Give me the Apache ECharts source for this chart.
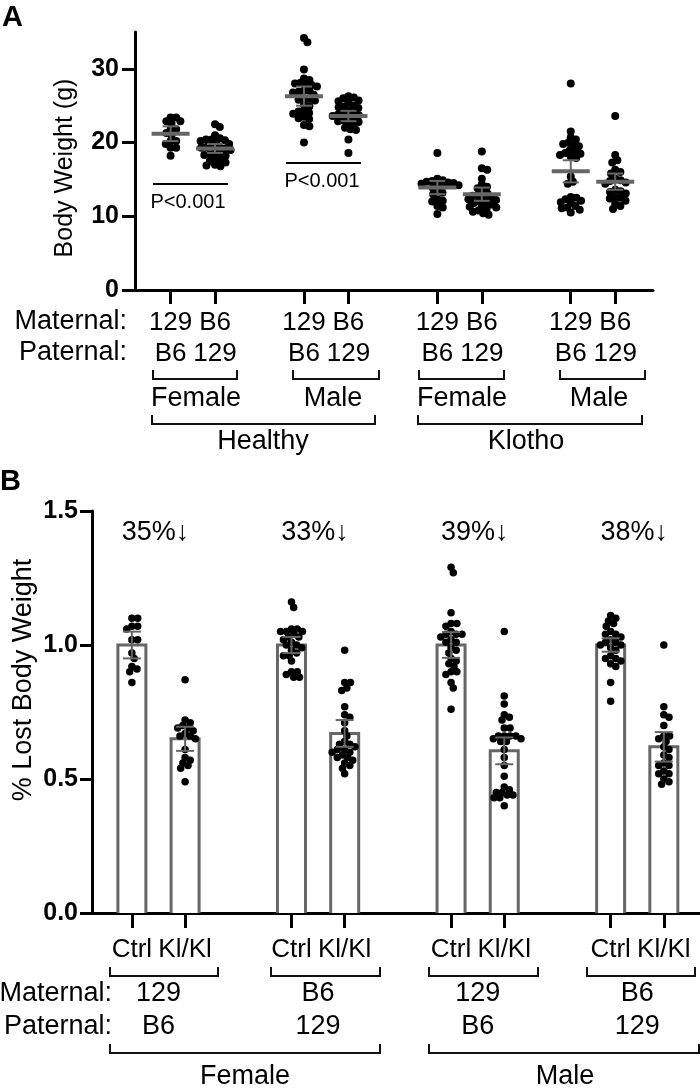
<!DOCTYPE html>
<html><head><meta charset="utf-8">
<script src="https://cdn.jsdelivr.net/npm/echarts@6/dist/echarts.min.js"></script>
<style>html,body{margin:0;padding:0;background:#fff}#c{width:700px;height:1088px}</style>
</head><body><div id="c"></div>
<script>
// ---------------- DATA ----------------
const xPos = [1, 2, 4, 5, 7, 8, 10, 11];
// Panel A
const maternalA = ['129', 'B6', '129', 'B6', '129', 'B6', '129', 'B6'];
const paternalA = ['B6', '129', 'B6', '129', 'B6', '129', 'B6', '129'];
const yTicksA = [0, 10, 20, 30];
const weightG1 = [23.4, 23.4, 22.9, 22.9, 22.6, 21.8, 21.8, 21.3, 21.0, 20.2, 20.2, 19.8, 19.3, 19.3, 18.2];
const weightG2 = [22.5, 22.1, 21.0, 20.6, 20.4, 20.4, 20.3, 20.2, 20.0, 19.8, 19.5, 19.4, 19.4, 19.3, 19.2, 19.0, 18.7, 18.5, 18.4, 18.3, 18.2, 17.8, 17.6, 17.5, 17.3, 17.0, 16.9, 16.8];
const weightG3 = [34.2, 33.6, 29.9, 28.7, 28.5, 28.1, 28.0, 27.9, 27.8, 27.6, 27.1, 27.0, 26.9, 26.8, 26.5, 26.0, 25.9, 25.8, 25.7, 25.1, 24.9, 24.3, 24.2, 24.0, 23.9, 23.5, 23.3, 23.2, 22.4, 22.2, 20.0];
const weightG4 = [26.3, 26.1, 26.0, 25.7, 25.6, 25.4, 25.0, 24.9, 24.8, 24.7, 24.3, 24.0, 23.9, 23.8, 23.7, 23.6, 23.4, 23.2, 23.0, 22.9, 22.8, 22.6, 22.4, 22.0, 21.8, 21.7, 20.4, 18.6];
const weightG5 = [18.6, 15.1, 14.9, 14.8, 14.7, 14.6, 14.5, 14.4, 14.3, 14.2, 14.1, 13.9, 13.5, 13.2, 13.0, 12.3, 12.1, 12.0, 11.4, 11.2, 10.3];
const weightG6 = [18.8, 16.5, 16.3, 15.1, 14.3, 14.0, 13.8, 13.4, 13.1, 12.9, 12.8, 12.6, 12.5, 12.3, 12.2, 12.1, 12.0, 11.8, 11.6, 11.4, 11.3, 11.2, 11.0, 10.8, 10.6, 10.4, 10.2];
const weightG7 = [28.0, 21.5, 20.7, 20.4, 20.0, 19.8, 19.6, 19.5, 19.0, 18.8, 18.6, 18.5, 18.3, 18.1, 17.9, 15.4, 14.7, 14.4, 12.6, 12.5, 12.3, 12.1, 11.9, 11.8, 11.4, 11.2, 11.1, 10.9, 10.5];
const weightG8 = [23.6, 18.3, 17.6, 17.3, 16.3, 16.0, 15.8, 15.1, 14.9, 14.8, 14.6, 14.4, 13.6, 13.4, 13.3, 13.1, 12.6, 12.5, 12.4, 12.1, 11.7, 11.4, 11.0];
const meanA = [21.2, 19.2, 26.3, 23.6, 13.9, 13.0, 16.1, 14.7];
const errA = [1.0, 0.6, 1.3, 0.7, 0.9, 0.9, 1.5, 1.1];
const pLabelA = ['P<0.001', 'P<0.001'];
const groupTopA = ['Female', 'Male', 'Female', 'Male'];
const groupBottomA = ['Healthy', 'Klotho'];
// Panel B
const xLabelsB = ['Ctrl', 'Kl/Kl', 'Ctrl', 'Kl/Kl', 'Ctrl', 'Kl/Kl', 'Ctrl', 'Kl/Kl'];
const yTicksB = [0, 0.5, 1.0, 1.5];
const lostG1 = [1.10, 1.10, 1.07, 1.07, 1.06, 1.02, 1.02, 0.97, 0.95, 0.92, 0.91, 0.90, 0.86];
const lostG2 = [0.87, 0.72, 0.71, 0.70, 0.69, 0.69, 0.68, 0.67, 0.66, 0.66, 0.65, 0.61, 0.58, 0.57, 0.56, 0.55, 0.54, 0.49];
const lostG3 = [1.16, 1.14, 1.06, 1.06, 1.05, 1.05, 1.05, 1.04, 1.03, 1.03, 1.02, 1.01, 1.00, 1.00, 0.99, 0.98, 0.97, 0.96, 0.96, 0.94, 0.90, 0.90, 0.89, 0.88, 0.88];
const lostG4 = [0.98, 0.86, 0.86, 0.84, 0.83, 0.77, 0.74, 0.73, 0.71, 0.68, 0.66, 0.64, 0.63, 0.63, 0.62, 0.61, 0.61, 0.60, 0.60, 0.59, 0.58, 0.58, 0.57, 0.56, 0.55, 0.54, 0.52];
const lostG5 = [1.29, 1.27, 1.12, 1.08, 1.08, 1.07, 1.05, 1.04, 1.04, 1.04, 1.03, 1.02, 1.01, 1.01, 0.99, 0.98, 0.97, 0.95, 0.94, 0.93, 0.92, 0.90, 0.90, 0.89, 0.86, 0.84, 0.76];
const lostG6 = [1.05, 0.81, 0.78, 0.74, 0.73, 0.72, 0.69, 0.69, 0.66, 0.66, 0.66, 0.66, 0.65, 0.65, 0.64, 0.64, 0.61, 0.58, 0.55, 0.51, 0.47, 0.46, 0.45, 0.45, 0.44, 0.43, 0.43, 0.44, 0.40];
const lostG7 = [1.11, 1.10, 1.09, 1.08, 1.07, 1.05, 1.04, 1.04, 1.03, 1.02, 1.01, 1.01, 1.00, 1.00, 0.99, 0.98, 0.96, 0.95, 0.95, 0.94, 0.93, 0.92, 0.86, 0.79];
const lostG8 = [1.00, 0.77, 0.74, 0.73, 0.70, 0.66, 0.66, 0.65, 0.64, 0.62, 0.61, 0.59, 0.58, 0.56, 0.55, 0.55, 0.53, 0.52, 0.52, 0.50, 0.49, 0.48];
const meanB = [1.00, 0.65, 1.00, 0.67, 1.00, 0.605, 1.00, 0.62];
const errB = [0.05, 0.045, 0.03, 0.05, 0.048, 0.05, 0.025, 0.055];
const pctLabels = ['35%\u2193', '33%\u2193', '39%\u2193', '38%\u2193'];
const pairCenters = [1.5, 4.5, 7.5, 10.5];
const maternalB = ['129', 'B6', '129', 'B6'];
const paternalB = ['B6', '129', 'B6', '129'];
const sexLabelsB = ['Female', 'Male'];

const weightGroups = [weightG1, weightG2, weightG3, weightG4, weightG5, weightG6, weightG7, weightG8];
const lostGroups = [lostG1, lostG2, lostG3, lostG4, lostG5, lostG6, lostG7, lostG8];

// ---------------- STYLE ----------------
const FONT = "'Liberation Sans', Arial, Helvetica, sans-serif";
const GRAY = '#666666';
const BLACK = '#000000';

const chart = echarts.init(document.getElementById('c'), null, { renderer: 'canvas' });

function errRender(capHalf, meanHalf, meanW) {
  return function (params, api) {
    const x = api.value(0), m = api.value(1), e = api.value(2);
    const c = api.coord([x, m]), t = api.coord([x, m + e]), b = api.coord([x, m - e]);
    const ch = [];
    if (meanHalf > 0) ch.push({ type: 'line', shape: { x1: c[0] - meanHalf, y1: c[1], x2: c[0] + meanHalf, y2: c[1] }, style: { stroke: GRAY, lineWidth: meanW } });
    ch.push({ type: 'line', shape: { x1: c[0], y1: t[1], x2: c[0], y2: b[1] }, style: { stroke: GRAY, lineWidth: 2 } });
    ch.push({ type: 'line', shape: { x1: c[0] - capHalf, y1: t[1], x2: c[0] + capHalf, y2: t[1] }, style: { stroke: GRAY, lineWidth: 2 } });
    ch.push({ type: 'line', shape: { x1: c[0] - capHalf, y1: b[1], x2: c[0] + capHalf, y2: b[1] }, style: { stroke: GRAY, lineWidth: 2 } });
    return { type: 'group', children: ch };
  };
}

function barRender(params, api) {
  const x = api.value(0), m = api.value(1);
  const t = api.coord([x, m]), b = api.coord([x, 0]);
  const hw = 14;
  return { type: 'group', children: [
    { type: 'rect', shape: { x: t[0] - hw, y: t[1], width: hw * 2, height: b[1] - t[1] }, style: { fill: '#fff' } },
    { type: 'polyline', shape: { points: [[t[0] - hw, b[1]], [t[0] - hw, t[1]], [t[0] + hw, t[1]], [t[0] + hw, b[1]]] }, style: { stroke: GRAY, lineWidth: 3, fill: null } }
  ] };
}

const axisLineStyle = { color: BLACK, width: 3 };

const option = {
  animation: false,
  backgroundColor: '#fff',
  textStyle: { fontFamily: FONT },
  grid: [
    { left: 135, top: 32, width: 518, height: 258 },
    { left: 92, top: 511, width: 608, height: 402 }
  ],
  xAxis: [
    { gridIndex: 0, type: 'value', min: 0.2, max: 11.85, splitLine: { show: false },
      axisLine: { lineStyle: axisLineStyle },
      axisTick: { customValues: xPos, length: 14, lineStyle: { color: BLACK, width: 3 } },
      axisLabel: { customValues: xPos, margin: 17, fontSize: 26, lineHeight: 31, color: BLACK, fontFamily: FONT,
        formatter: v => { const i = xPos.indexOf(v); return maternalA[i] + '\n' + paternalA[i]; } } },
    { gridIndex: 1, type: 'value', min: 0.25, max: 11.68, splitLine: { show: false },
      axisLine: { lineStyle: axisLineStyle },
      axisTick: { customValues: xPos, length: 15, lineStyle: { color: BLACK, width: 3 } },
      axisLabel: { customValues: xPos, margin: 24, fontSize: 26, color: BLACK, fontFamily: FONT,
        formatter: v => xLabelsB[xPos.indexOf(v)] } }
  ],
  yAxis: [
    { gridIndex: 0, type: 'value', min: 0, max: 35, interval: 5, splitLine: { show: false },
      axisLine: { show: true, lineStyle: axisLineStyle },
      axisTick: { show: true, customValues: yTicksA, length: 13, lineStyle: { color: BLACK, width: 3 } },
      axisLabel: { customValues: yTicksA, margin: 16, fontSize: 25, fontWeight: 'bold', color: BLACK, fontFamily: FONT } },
    { gridIndex: 1, type: 'value', min: 0, max: 1.5, interval: 0.5, splitLine: { show: false },
      axisLine: { show: true, lineStyle: axisLineStyle },
      axisTick: { show: true, customValues: yTicksB, length: 12, lineStyle: { color: BLACK, width: 3 } },
      axisLabel: { customValues: yTicksB, margin: 14, fontSize: 25, fontWeight: 'bold', color: BLACK, fontFamily: FONT,
        formatter: v => v.toFixed(1) } }
  ],
  series: [
    { type: 'scatter', xAxisIndex: 0, yAxisIndex: 0, symbolSize: 8, itemStyle: { color: BLACK, opacity: 1 }, z: 3, data: [] },
    { type: 'custom', xAxisIndex: 0, yAxisIndex: 0, z: 5, renderItem: errRender(8, 19, 4),
      data: meanA.map((m, i) => [xPos[i], m, errA[i]]) },
    { type: 'custom', xAxisIndex: 1, yAxisIndex: 1, z: 1, renderItem: barRender,
      data: meanB.map((m, i) => [xPos[i], m]) },
    { type: 'scatter', xAxisIndex: 1, yAxisIndex: 1, symbolSize: 7.5, itemStyle: { color: BLACK, opacity: 1 }, z: 3, data: [] },
    { type: 'custom', xAxisIndex: 1, yAxisIndex: 1, z: 5, renderItem: errRender(9, 0, 2),
      data: meanB.map((m, i) => [xPos[i], m, errB[i]]) }
  ]
};
chart.setOption(option);

// beeswarm layout in pixel space (points may overlap a little, like the original)
function swarm(ys, d) {
  const n = ys.length, xs = new Array(n).fill(0);
  const order = ys.map((_, i) => i).sort((a, b) => ys[a] - ys[b]);
  const placed = [];
  for (const i of order) {
    const y = ys[i];
    const nb = placed.filter(p => Math.abs(p.y - y) < d);
    const cands = [0];
    nb.forEach(p => { const dx = Math.sqrt(d * d - (p.y - y) * (p.y - y)); cands.push(p.x + dx, p.x - dx); });
    cands.sort((a, b) => Math.abs(a) - Math.abs(b));
    for (const c of cands) {
      if (nb.every(p => (p.x - c) * (p.x - c) + (p.y - y) * (p.y - y) >= d * d - 1e-6)) { xs[i] = c; placed.push({ x: c, y }); break; }
    }
  }
  return xs;
}
function swarmData(groups, gridIndex, d) {
  const out = [];
  groups.forEach((vals, gi) => {
    const x = xPos[gi];
    const pys = vals.map(v => chart.convertToPixel({ gridIndex }, [x, v])[1]);
    const cx = chart.convertToPixel({ gridIndex }, [x, 0])[0];
    const dxs = swarm(pys, d);
    vals.forEach((v, k) => {
      const dv = chart.convertFromPixel({ gridIndex }, [cx + dxs[k], pys[k]]);
      out.push([dv[0], v]);
    });
  });
  return out;
}
const dataA = swarmData(weightGroups, 0, 5.6);
const dataB = swarmData(lostGroups, 1, 5.8);

// annotations / labels
const g = [];
function txt(text, x, y, size, opts) {
  g.push(Object.assign({ type: 'text', x, y, style: Object.assign({ text, fontSize: size, fontFamily: FONT, fill: BLACK, align: 'center', verticalAlign: 'middle' }, (opts && opts.style) || {}) }, (opts && opts.el) || {}));
}
function bracket(x1, x2, yTop, yBot) {
  g.push({ type: 'polyline', shape: { points: [[x1, yTop], [x1, yBot], [x2, yBot], [x2, yTop]] }, style: { stroke: '#111', lineWidth: 2, fill: null } });
}
function hline(x1, x2, y) {
  g.push({ type: 'line', shape: { x1, y1: y, x2, y2: y }, style: { stroke: BLACK, lineWidth: 2 } });
}
// Panel A
txt('A', 2, 3, 29, { style: { fontWeight: 'bold', align: 'left', verticalAlign: 'top' } });
txt('Body Weight (g)', 65, 168, 25, { el: { rotation: Math.PI / 2 } });
hline(153, 228, 184); txt(pLabelA[0], 188, 202, 20);
hline(286, 361, 163); txt(pLabelA[1], 322, 181, 20);
txt('Maternal:', 127, 322, 27, { style: { align: 'right' } });
txt('Paternal:', 127, 353, 27, { style: { align: 'right' } });
const smallBrA = [[153, 237], [293, 379], [419, 504], [560, 645]];
const smallTxtA = [196, 333, 462, 599];
smallBrA.forEach((b, i) => { bracket(b[0], b[1], 370, 379); txt(groupTopA[i], smallTxtA[i], 399, 27); });
const bigBrA = [[152, 375], [418, 642]];
const bigTxtA = [263, 526];
bigBrA.forEach((b, i) => { bracket(b[0], b[1], 415, 424); txt(groupBottomA[i], bigTxtA[i], 442, 27); });
// Panel B
txt('B', 0, 467, 29, { style: { fontWeight: 'bold', align: 'left', verticalAlign: 'top' } });
txt('% Lost Body Weight', 24, 680, 27, { el: { rotation: Math.PI / 2 } });
pairCenters.forEach((pc, i) => {
  const px = chart.convertToPixel({ gridIndex: 1 }, [pc, 0])[0];
  txt(pctLabels[i], px - 3, 533, 27);
  txt(maternalB[i], px, 994, 27);
  txt(paternalB[i], px, 1027, 27);
});
txt('Maternal:', 112, 994, 27, { style: { align: 'right' } });
txt('Paternal:', 112, 1027, 27, { style: { align: 'right' } });
const smallBrB = [[110, 218], [271, 380], [429, 538], [587, 695]];
smallBrB.forEach(b => bracket(b[0], b[1], 967, 976));
const bigBrB = [[110, 380], [429, 699]];
const bigTxtB = [245, 565];
bigBrB.forEach((b, i) => { bracket(b[0], b[1], 1044, 1053); txt(sexLabelsB[i], bigTxtB[i], 1077, 27); });

chart.setOption({
  series: [{ data: dataA }, {}, {}, { data: dataB }, {}],
  graphic: g
});
</script>
</body></html>
